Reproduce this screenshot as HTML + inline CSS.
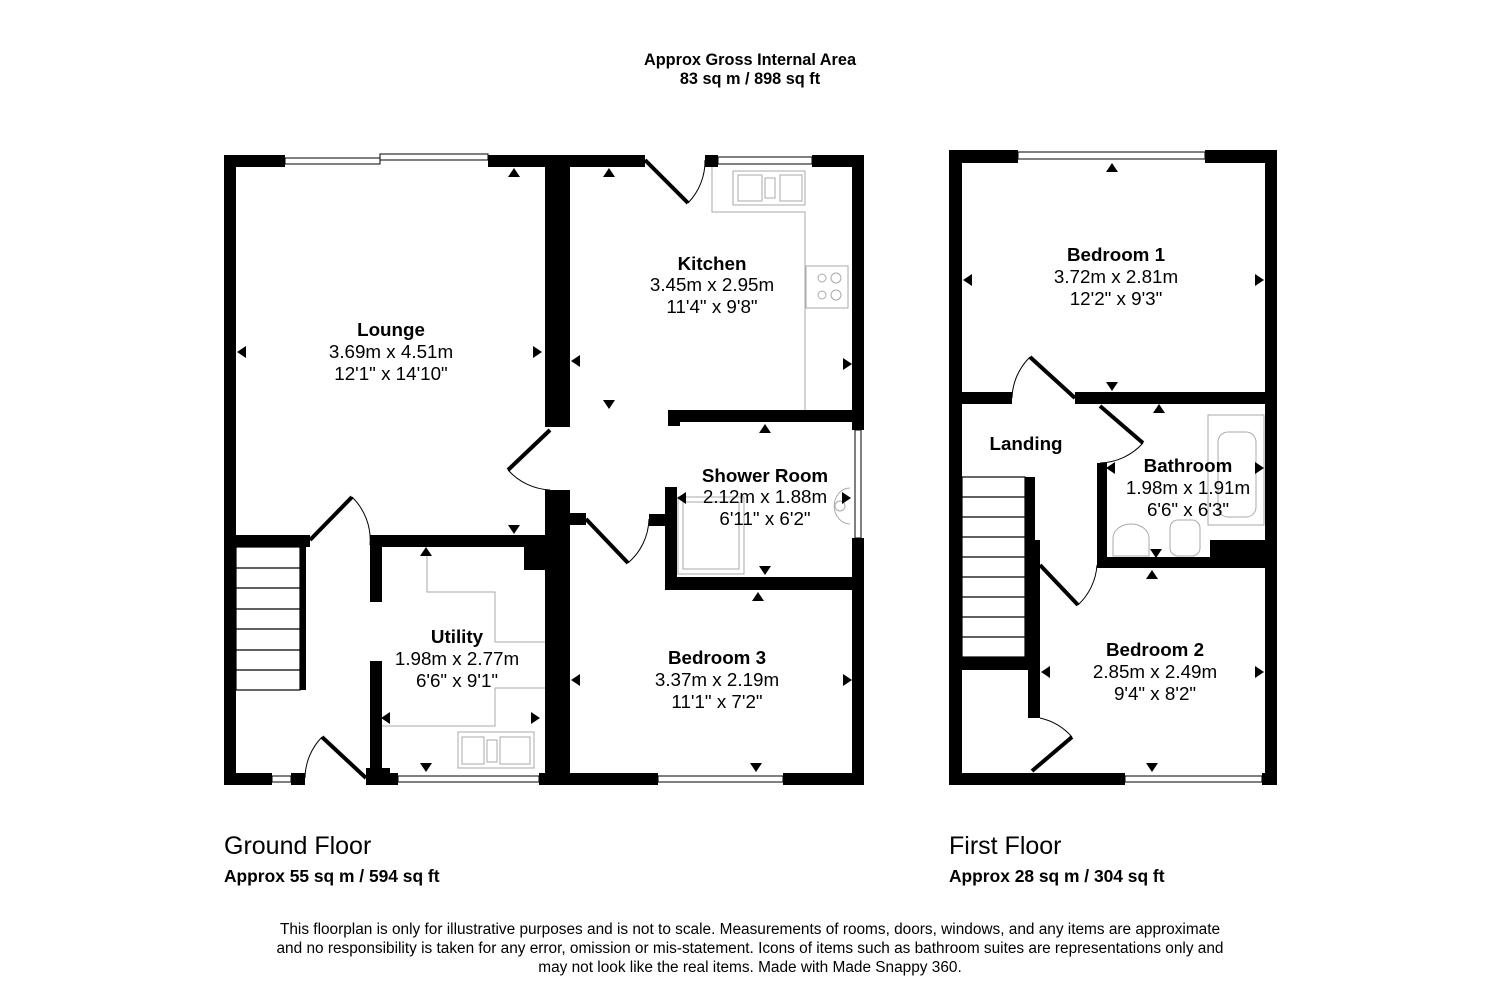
<!DOCTYPE html>
<html><head><meta charset="utf-8"><style>
body{margin:0;background:#fff;}
svg text{font-family:"Liberation Sans",sans-serif;}
</style></head><body>
<svg width="1500" height="1000" viewBox="0 0 1500 1000" xmlns="http://www.w3.org/2000/svg">
<rect width="1500" height="1000" fill="#fff"/>
<g font-weight="bold" font-size="16.3" text-anchor="middle" fill="#000">
<text x="750" y="65">Approx Gross Internal Area</text>
<text x="750" y="84">83 sq m / 898 sq ft</text>
</g>
<g fill="none" stroke="#aaa" stroke-width="1">
<polyline points="712,167 712,212 805,212 805,410"/>
<rect x="733" y="171" width="72" height="34"/>
<rect x="738" y="175" width="24" height="26"/><rect x="765" y="178" width="10" height="20"/><rect x="780" y="175" width="22" height="26"/>
<rect x="806" y="266" width="42" height="42"/>
<circle cx="822" cy="278" r="4"/><circle cx="836" cy="278" r="5"/><circle cx="822" cy="295" r="4"/><circle cx="836" cy="295" r="5"/>
<polyline points="427,550 427,592 495,592 495,642 545,642"/>
<polyline points="545,688 495,688 495,726 382,726"/>
<rect x="458" y="732" width="76" height="36"/>
<rect x="462" y="737" width="22" height="27"/><rect x="487" y="740" width="10" height="22"/><rect x="500" y="737" width="30" height="27"/>
<rect x="678" y="497" width="66" height="77"/><rect x="683" y="502" width="56" height="67"/>
<path d="M850,488 a14,16 0 0 0 0,36" /><circle cx="840" cy="506" r="5"/>
</g>
<g fill="#000">
<rect x="224" y="155" width="61" height="12"/>
<rect x="488" y="155" width="157" height="12"/>
<rect x="705" y="155" width="13" height="12"/>
<rect x="812" y="155" width="52" height="12"/>
<rect x="224" y="155" width="12" height="630"/>
<rect x="852" y="155" width="12" height="275"/>
<rect x="852" y="538" width="12" height="247"/>
<rect x="224" y="773" width="48" height="12"/>
<rect x="291" y="773" width="14" height="12"/>
<rect x="366" y="773" width="32" height="12"/>
<rect x="366" y="768" width="24" height="17"/>
<rect x="539" y="773" width="119" height="12"/>
<rect x="783" y="773" width="81" height="12"/>
<rect x="545" y="155" width="25" height="272"/>
<rect x="545" y="490" width="25" height="295"/>
<rect x="557" y="497" width="13" height="28"/>
<rect x="570" y="513" width="16" height="12"/>
<rect x="224" y="535" width="86" height="12"/>
<rect x="370" y="535" width="175" height="12"/>
<rect x="300" y="540" width="6" height="150"/>
<rect x="370" y="535" width="12" height="67"/>
<rect x="370" y="661" width="12" height="124"/>
<rect x="524" y="540" width="21" height="30"/>
<rect x="668" y="410" width="196" height="12"/>
<rect x="668" y="410" width="12" height="16"/>
<rect x="665" y="487" width="12" height="103"/>
<rect x="665" y="577" width="199" height="13"/>
<rect x="649" y="514" width="20" height="12"/>
</g>
<g fill="#fff" stroke="#000" stroke-width="1">
<rect x="285" y="158" width="95" height="6"/><rect x="380" y="154" width="108" height="6"/>
<rect x="718" y="157" width="94" height="7"/>
<rect x="272" y="776" width="19" height="6"/>
<rect x="398" y="776" width="141" height="6"/>
<rect x="658" y="776" width="125" height="6"/>
<rect x="855" y="430" width="6" height="108"/>
</g>
<g stroke="#000" stroke-width="1.2" fill="none">
<rect x="236" y="547" width="64" height="143"/>
<line x1="236" y1="568" x2="300" y2="568"/><line x1="236" y1="588" x2="300" y2="588"/><line x1="236" y1="609" x2="300" y2="609"/><line x1="236" y1="629" x2="300" y2="629"/><line x1="236" y1="650" x2="300" y2="650"/><line x1="236" y1="670" x2="300" y2="670"/>
</g>
<g stroke="#000" fill="none">
<line x1="645" y1="160" x2="688" y2="203" stroke-width="4"/><path d="M688,203 A60,60 0 0 0 705,160" stroke-width="1"/>
<line x1="550" y1="430" x2="508" y2="470" stroke-width="4"/><path d="M508,470 A60,60 0 0 0 550,490" stroke-width="1"/>
<line x1="310" y1="540" x2="352" y2="497" stroke-width="4"/><path d="M352,497 A60,60 0 0 1 370,545" stroke-width="1"/>
<line x1="366" y1="778" x2="322" y2="737" stroke-width="4"/><path d="M322,737 A60,60 0 0 0 305,778" stroke-width="1"/>
<line x1="586" y1="519" x2="628" y2="563" stroke-width="4"/><path d="M628,563 A60,60 0 0 0 649,519" stroke-width="1"/>
</g>
<g fill="#000">
<path d="M508,177 l6,-9 l6,9z"/><path d="M603,177 l6,-9 l6,9z"/>
<path d="M246,346 l-9,6 l9,6z"/><path d="M533,346 l9,6 l-9,6z"/>
<path d="M508,525 l6,9 l6,-9z"/><path d="M603,400 l6,9 l6,-9z"/>
<path d="M580,355 l-9,6 l9,6z"/><path d="M843,358 l9,6 l-9,6z"/>
<path d="M759,433 l6,-9 l6,9z"/><path d="M686,492 l-9,6 l9,6z"/><path d="M842,492 l9,6 l-9,6z"/>
<path d="M759,566 l6,9 l6,-9z"/><path d="M752,601 l6,-9 l6,9z"/>
<path d="M420,556 l6,-9 l6,9z"/><path d="M390,712 l-9,6 l9,6z"/><path d="M531,712 l9,6 l-9,6z"/>
<path d="M420,763 l6,9 l6,-9z"/><path d="M750,763 l6,9 l6,-9z"/>
<path d="M580,674 l-9,6 l9,6z"/><path d="M843,674 l9,6 l-9,6z"/>
</g>
<g text-anchor="middle" font-size="18.8" fill="#000">
<text x="391" y="336" font-weight="bold">Lounge</text><text x="391" y="358">3.69m x 4.51m</text><text x="391" y="380">12'1" x 14'10"</text>
<text x="712" y="270" font-weight="bold">Kitchen</text><text x="712" y="291">3.45m x 2.95m</text><text x="712" y="313">11'4" x 9'8"</text>
<text x="765" y="482" font-weight="bold">Shower Room</text><text x="765" y="503">2.12m x 1.88m</text><text x="765" y="525">6'11" x 6'2"</text>
<text x="457" y="643" font-weight="bold">Utility</text><text x="457" y="665">1.98m x 2.77m</text><text x="457" y="687">6'6" x 9'1"</text>
<text x="717" y="664" font-weight="bold">Bedroom 3</text><text x="717" y="686">3.37m x 2.19m</text><text x="717" y="708">11'1" x 7'2"</text>
</g>
<g fill="none" stroke="#aaa" stroke-width="1">
<rect x="1208" y="415" width="56" height="110"/><rect x="1218" y="432" width="38" height="85" rx="10"/>
<path d="M1113,556 l0,-18 a18,14 0 0 1 36,0 l0,18z"/>
<rect x="1170" y="520" width="30" height="36" rx="8"/>
</g>
<g fill="#000">
<rect x="949" y="150" width="69" height="13"/><rect x="1205" y="150" width="72" height="13"/>
<rect x="949" y="150" width="13" height="635"/><rect x="1265" y="150" width="12" height="635"/>
<rect x="949" y="773" width="176" height="12"/><rect x="1262" y="773" width="15" height="12"/>
<rect x="949" y="392" width="63" height="12"/><rect x="1075" y="392" width="202" height="12"/>
<rect x="1097" y="463" width="10" height="105"/>
<rect x="1097" y="557" width="180" height="11"/>
<rect x="1210" y="540" width="55" height="28"/>
<rect x="1025" y="477" width="10" height="185"/>
<rect x="1028" y="540" width="12" height="178"/>
<rect x="949" y="657" width="91" height="13"/>
</g>
<g fill="#fff" stroke="#000" stroke-width="1">
<rect x="1018" y="152" width="187" height="7"/>
<rect x="1125" y="776" width="137" height="6"/>
</g>
<g stroke="#000" stroke-width="1.2" fill="none">
<rect x="962" y="477" width="63" height="180"/>
<line x1="962" y1="497" x2="1025" y2="497"/><line x1="962" y1="517" x2="1025" y2="517"/><line x1="962" y1="537" x2="1025" y2="537"/><line x1="962" y1="557" x2="1025" y2="557"/><line x1="962" y1="577" x2="1025" y2="577"/><line x1="962" y1="597" x2="1025" y2="597"/><line x1="962" y1="617" x2="1025" y2="617"/><line x1="962" y1="637" x2="1025" y2="637"/>
</g>
<g stroke="#000" fill="none">
<line x1="1075" y1="398" x2="1030" y2="357" stroke-width="4"/><path d="M1030,357 A60,60 0 0 0 1012,398" stroke-width="1"/>
<line x1="1100" y1="406" x2="1143" y2="443" stroke-width="4"/><path d="M1143,443 A60,60 0 0 1 1100,463" stroke-width="1"/>
<line x1="1040" y1="565" x2="1078" y2="605" stroke-width="4"/><path d="M1078,605 A60,60 0 0 0 1097,565" stroke-width="1"/>
<line x1="1032" y1="771" x2="1072" y2="737" stroke-width="4"/><path d="M1072,737 A60,60 0 0 0 1040,718" stroke-width="1"/>
</g>
<g fill="#000">
<path d="M1106,172 l6,-9 l6,9z"/><path d="M1106,382 l6,9 l6,-9z"/>
<path d="M972,274 l-9,6 l9,6z"/><path d="M1255,274 l9,6 l-9,6z"/>
<path d="M1153,413 l6,-9 l6,9z"/><path d="M1115,462 l-9,6 l9,6z"/><path d="M1255,462 l9,6 l-9,6z"/>
<path d="M1150,549 l6,9 l6,-9z"/><path d="M1146,579 l6,-9 l6,9z"/>
<path d="M1050,666 l-9,6 l9,6z"/><path d="M1255,666 l9,6 l-9,6z"/>
<path d="M1146,763 l6,9 l6,-9z"/>
</g>
<g text-anchor="middle" font-size="18.8" fill="#000">
<text x="1116" y="261" font-weight="bold">Bedroom 1</text><text x="1116" y="283">3.72m x 2.81m</text><text x="1116" y="305">12'2" x 9'3"</text>
<text x="1026" y="450" font-weight="bold">Landing</text>
<text x="1188" y="472" font-weight="bold">Bathroom</text><text x="1188" y="494">1.98m x 1.91m</text><text x="1188" y="516">6'6" x 6'3"</text>
<text x="1155" y="656" font-weight="bold">Bedroom 2</text><text x="1155" y="678">2.85m x 2.49m</text><text x="1155" y="700">9'4" x 8'2"</text>
</g>
<g fill="#000">
<text x="224" y="854" font-size="25">Ground Floor</text>
<text x="224" y="882" font-size="17.4" font-weight="bold">Approx 55 sq m / 594 sq ft</text>
<text x="949" y="854" font-size="25">First Floor</text>
<text x="949" y="882" font-size="17.4" font-weight="bold">Approx 28 sq m / 304 sq ft</text>
</g>
<g text-anchor="middle" font-size="15.4" fill="#000">
<text x="750" y="934">This floorplan is only for illustrative purposes and is not to scale. Measurements of rooms, doors, windows, and any items are approximate</text>
<text x="750" y="953">and no responsibility is taken for any error, omission or mis-statement. Icons of items such as bathroom suites are representations only and</text>
<text x="750" y="972">may not look like the real items. Made with Made Snappy 360.</text>
</g>
</svg>
</body></html>
